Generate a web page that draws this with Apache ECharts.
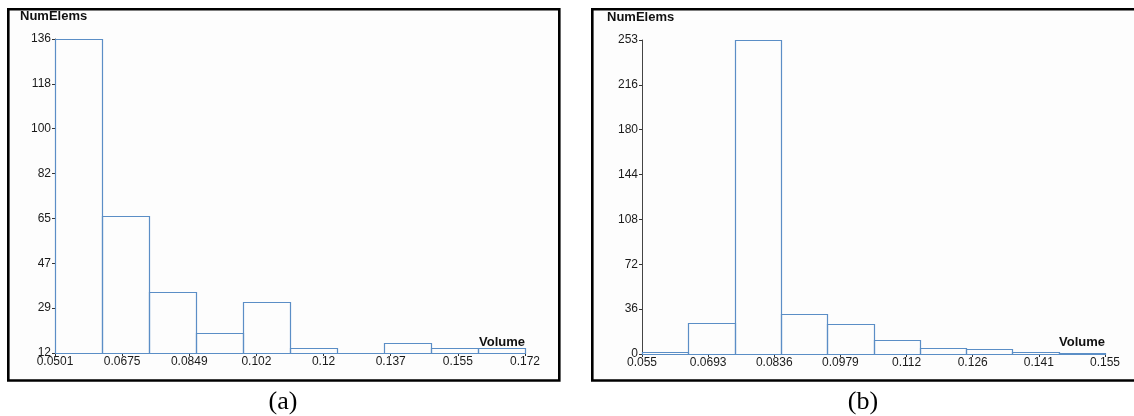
<!DOCTYPE html>
<html>
<head>
<meta charset="utf-8">
<script src="https://cdn.jsdelivr.net/npm/echarts@6/dist/echarts.min.js"></script>
<style>
  html, body { margin: 0; padding: 0; background: #ffffff; }
  #chart { width: 1134px; height: 416px; }
</style>
</head>
<body>
<div id="chart"></div>
<script>
// Panel (a): element-volume histogram, 10 bins
const binEdgesA = [0.0501, 0.06229, 0.07448, 0.08667, 0.09886, 0.11105, 0.12324, 0.13543, 0.14762, 0.15981, 0.172];
const countsA = [136, 66, 36, 20, 32, 14, 12, 16, 14, 14];
const xTickLabelsA = ['0.0501', '0.0675', '0.0849', '0.102', '0.12', '0.137', '0.155', '0.172'];
const yTickLabelsA = ['12', '29', '47', '65', '82', '100', '118', '136'];

// Panel (b): element-volume histogram, 10 bins
const binEdgesB = [0.055, 0.065, 0.075, 0.085, 0.095, 0.105, 0.115, 0.125, 0.135, 0.145, 0.155];
const countsB = [2, 25, 253, 32, 24, 11, 5, 4, 2, 1];
const xTickLabelsB = ['0.055', '0.0693', '0.0836', '0.0979', '0.112', '0.126', '0.141', '0.155'];
const yTickLabelsB = ['0', '36', '72', '108', '144', '180', '216', '253'];

const BAR_COLOR = '#5b8ec6';
const TEXT_COLOR = '#1a1a1a';
const LABEL_FONT = 'Liberation Sans';

function binRows(edges, counts) {
  return counts.map((c, i) => [edges[i], edges[i + 1], c]);
}

// evenly spaced ticks between the axis ends, one per label
function tickValues(min, max, labels) {
  const n = labels.length - 1;
  return labels.map((_, i) => min + (max - min) * i / n);
}

function labelFor(min, max, labels) {
  const step = (max - min) / (labels.length - 1);
  return v => labels[Math.round((v - min) / step)] || '';
}

function xAxisFor(idx, edges, labels) {
  const min = edges[0], max = edges[edges.length - 1];
  const ticks = tickValues(min, max, labels);
  return {
    type: 'value', gridIndex: idx, min: min, max: max,
    axisLine: { show: false },
    splitLine: { show: false },
    axisTick: { show: true, length: 3, customValues: ticks, lineStyle: { color: '#333', width: 1 } },
    axisLabel: {
      customValues: ticks, margin: 3, color: TEXT_COLOR,
      fontFamily: LABEL_FONT, fontSize: 12,
      formatter: labelFor(min, max, labels)
    }
  };
}

function yAxisFor(idx, labels) {
  const min = Number(labels[0]), max = Number(labels[labels.length - 1]);
  const ticks = tickValues(min, max, labels);
  return {
    type: 'value', gridIndex: idx, min: min, max: max,
    axisLine: { show: true, lineStyle: { color: '#444', width: 1 } },
    splitLine: { show: false },
    axisTick: { show: true, length: 3, customValues: ticks, lineStyle: { color: '#333', width: 1 } },
    axisLabel: {
      customValues: ticks, margin: 4, color: TEXT_COLOR,
      fontFamily: LABEL_FONT, fontSize: 12,
      formatter: labelFor(min, max, labels)
    }
  };
}

// each bin is an outlined box; drawn as a closed polygon so empty-height bins still show a line
function histSeries(idx, edges, counts, base) {
  return {
    type: 'custom', xAxisIndex: idx, yAxisIndex: idx, clip: false, z: 5,
    data: binRows(edges, counts),
    encode: { x: [0, 1], y: 2 },
    renderItem: function (params, api) {
      const tl = api.coord([api.value(0), api.value(2)]);
      const br = api.coord([api.value(1), base]);
      const x0 = Math.round(tl[0]) + 0.5, x1 = Math.round(br[0]) + 0.5;
      const y0 = Math.round(tl[1]) + 0.5, y1 = Math.round(br[1]) + 0.5;
      return {
        type: 'polygon',
        shape: { points: [[x0, y1], [x0, y0], [x1, y0], [x1, y1]] },
        style: { fill: 'rgba(0,0,0,0)', stroke: BAR_COLOR, lineWidth: 1.2 }
      };
    }
  };
}

const boldText = { fontFamily: LABEL_FONT, fontWeight: 'bold', fontSize: 13, fill: '#111' };
const captionText = { fontFamily: 'Liberation Serif', fontSize: 26, fill: '#000' };

const chart = echarts.init(document.getElementById('chart'), null, { renderer: 'canvas' });
chart.setOption({
  backgroundColor: '#ffffff',
  animation: false,
  grid: [
    { left: 55, width: 470, top: 39, height: 314 },
    { left: 642, width: 463, top: 40, height: 314 }
  ],
  xAxis: [xAxisFor(0, binEdgesA, xTickLabelsA), xAxisFor(1, binEdgesB, xTickLabelsB)],
  yAxis: [yAxisFor(0, yTickLabelsA), yAxisFor(1, yTickLabelsB)],
  series: [
    histSeries(0, binEdgesA, countsA, Number(yTickLabelsA[0])),
    histSeries(1, binEdgesB, countsB, Number(yTickLabelsB[0]))
  ],
  graphic: [
    // panel frames
    { type: 'rect', z: -10, shape: { x: 8.3, y: 9.3, width: 551, height: 371.2 },
      style: { fill: '#fdfdfd', stroke: '#000', lineWidth: 2.6 } },
    { type: 'rect', z: -10, shape: { x: 592.3, y: 9.3, width: 560, height: 371.2 },
      style: { fill: '#fdfdfd', stroke: '#000', lineWidth: 2.6 } },
    // axis titles
    { type: 'text', z: 20, x: 20, y: 16, style: Object.assign({ text: 'NumElems', verticalAlign: 'middle' }, boldText) },
    { type: 'text', z: 20, x: 607, y: 17, style: Object.assign({ text: 'NumElems', verticalAlign: 'middle' }, boldText) },
    { type: 'text', z: 20, x: 479, y: 342, style: Object.assign({ text: 'Volume', verticalAlign: 'middle' }, boldText) },
    { type: 'text', z: 20, x: 1059, y: 342, style: Object.assign({ text: 'Volume', verticalAlign: 'middle' }, boldText) },
    // panel captions
    { type: 'text', z: 20, x: 283, y: 402, style: Object.assign({ text: '(a)', align: 'center', verticalAlign: 'middle' }, captionText) },
    { type: 'text', z: 20, x: 863, y: 402, style: Object.assign({ text: '(b)', align: 'center', verticalAlign: 'middle' }, captionText) }
  ]
});
</script>
</body>
</html>
